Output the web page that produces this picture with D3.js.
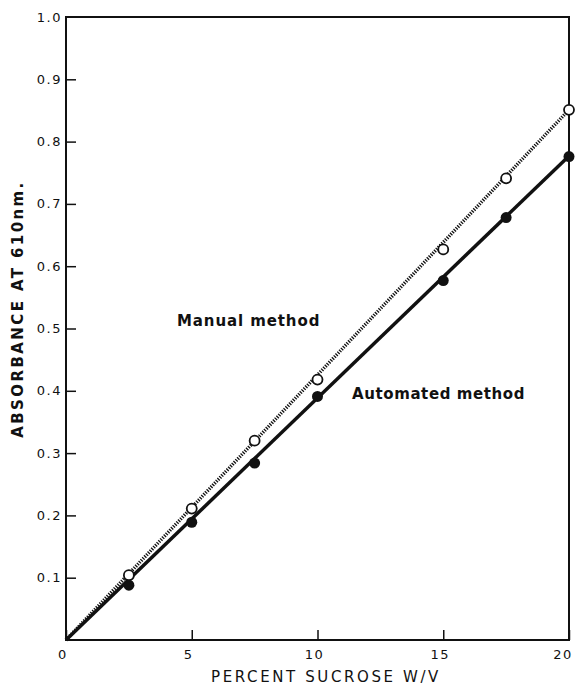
<!DOCTYPE html>
<html>
<head>
<meta charset="utf-8">
<script src="https://cdn.jsdelivr.net/npm/d3@7"></script>
<style>
  body { margin: 0; background: #fff; }
  text { font-family: "DejaVu Sans", sans-serif; fill: #111; }
</style>
</head>
<body>
<script>
// data
var sucrose = [2.5, 5, 7.5, 10, 15, 17.5, 20];
var manual = [0.104, 0.211, 0.320, 0.418, 0.627, 0.741, 0.851];
var automated = [0.088, 0.189, 0.284, 0.391, 0.577, 0.678, 0.776];
// straight calibration lines through the origin
var lineX = [0, 20];
var manualLine = [0, 0.851];
var automatedLine = [0, 0.777];
var xTicks = [0, 5, 10, 15, 20];
var yTicks = [0.1, 0.2, 0.3, 0.4, 0.5, 0.6, 0.7, 0.8, 0.9, 1.0];

var width = 575, height = 686;
var margin = {top: 17, right: 6, bottom: 46, left: 66};

var svg = d3.select("body").append("svg")
    .attr("width", width)
    .attr("height", height);

var x = d3.scaleLinear().domain([0, 20]).range([margin.left, 569]);
var y = d3.scaleLinear().domain([0, 1]).range([640, margin.top]);

// frame
svg.append("rect")
    .attr("x", x(0)).attr("y", y(1))
    .attr("width", x(20) - x(0)).attr("height", y(0) - y(1))
    .attr("fill", "none").attr("stroke", "#111").attr("stroke-width", 2);

// axes with inward ticks
var xAxis = svg.append("g")
    .attr("transform", "translate(0," + y(0) + ")")
    .call(d3.axisTop(x).tickValues(xTicks).tickSize(10).tickFormat(""));
xAxis.select(".domain").remove();
xAxis.selectAll("line").attr("stroke", "#111").attr("stroke-width", 1.5);

svg.selectAll(".xlab")
    .data(xTicks)
    .enter().append("text")
    .attr("class", "xlab")
    .attr("x", function(d) { return d === 20 ? x(d) - 6 : x(d) - 3; })
    .attr("y", y(0) + 19)
    .attr("text-anchor", "middle")
    .attr("font-size", "13px")
    .attr("letter-spacing", "1.5px")
    .text(function(d) { return d; });

var yAxis = svg.append("g")
    .attr("transform", "translate(" + x(0) + ",0)")
    .call(d3.axisRight(y).tickValues(yTicks.slice(0, 9)).tickSize(10).tickFormat(""));
yAxis.select(".domain").remove();
yAxis.selectAll("line").attr("stroke", "#111").attr("stroke-width", 1.5);

svg.selectAll(".ylab")
    .data(yTicks)
    .enter().append("text")
    .attr("class", "ylab")
    .attr("x", x(0) - 4)
    .attr("y", function(d) { return y(d); })
    .attr("dy", ".35em")
    .attr("text-anchor", "end")
    .attr("font-size", "13px")
    .attr("letter-spacing", "1.5px")
    .text(function(d) { return d3.format(".1f")(d); });

// axis titles
svg.append("text")
    .attr("x", 326)
    .attr("y", 682)
    .attr("text-anchor", "middle")
    .attr("font-size", "15px")
    .attr("letter-spacing", "2.6px")
    .text("PERCENT SUCROSE W/V");

svg.append("text")
    .attr("transform", "translate(23,309) rotate(-90)")
    .attr("text-anchor", "middle")
    .attr("font-size", "15px")
    .attr("font-weight", "bold")
    .attr("letter-spacing", "2.4px")
    .text("ABSORBANCE AT 610nm.");

// lines
var line = d3.line()
    .x(function(d) { return x(d[0]); })
    .y(function(d) { return y(d[1]); });

svg.append("path")
    .datum(d3.zip(lineX, manualLine))
    .attr("d", line)
    .attr("fill", "none")
    .attr("stroke", "#111")
    .attr("stroke-width", 3.5)
    .attr("stroke-dasharray", "1.3,1.3");

svg.append("path")
    .datum(d3.zip(lineX, automatedLine))
    .attr("d", line)
    .attr("fill", "none")
    .attr("stroke", "#111")
    .attr("stroke-width", 3.5);

// points
svg.selectAll(".auto")
    .data(d3.zip(sucrose, automated))
    .enter().append("circle")
    .attr("class", "auto")
    .attr("cx", function(d) { return x(d[0]); })
    .attr("cy", function(d) { return y(d[1]); })
    .attr("r", 5.5)
    .attr("fill", "#111");

svg.selectAll(".manual")
    .data(d3.zip(sucrose, manual))
    .enter().append("circle")
    .attr("class", "manual")
    .attr("cx", function(d) { return x(d[0]); })
    .attr("cy", function(d) { return y(d[1]); })
    .attr("r", 5)
    .attr("fill", "#fff")
    .attr("stroke", "#111")
    .attr("stroke-width", 1.8);

// annotations
svg.append("text")
    .attr("x", 177).attr("y", 326)
    .attr("font-size", "15px")
    .attr("font-weight", "bold")
    .attr("letter-spacing", "0.9px")
    .text("Manual method");

svg.append("text")
    .attr("x", 352).attr("y", 399)
    .attr("font-size", "15px")
    .attr("font-weight", "bold")
    .attr("letter-spacing", "0.6px")
    .text("Automated method");
</script>
</body>
</html>
